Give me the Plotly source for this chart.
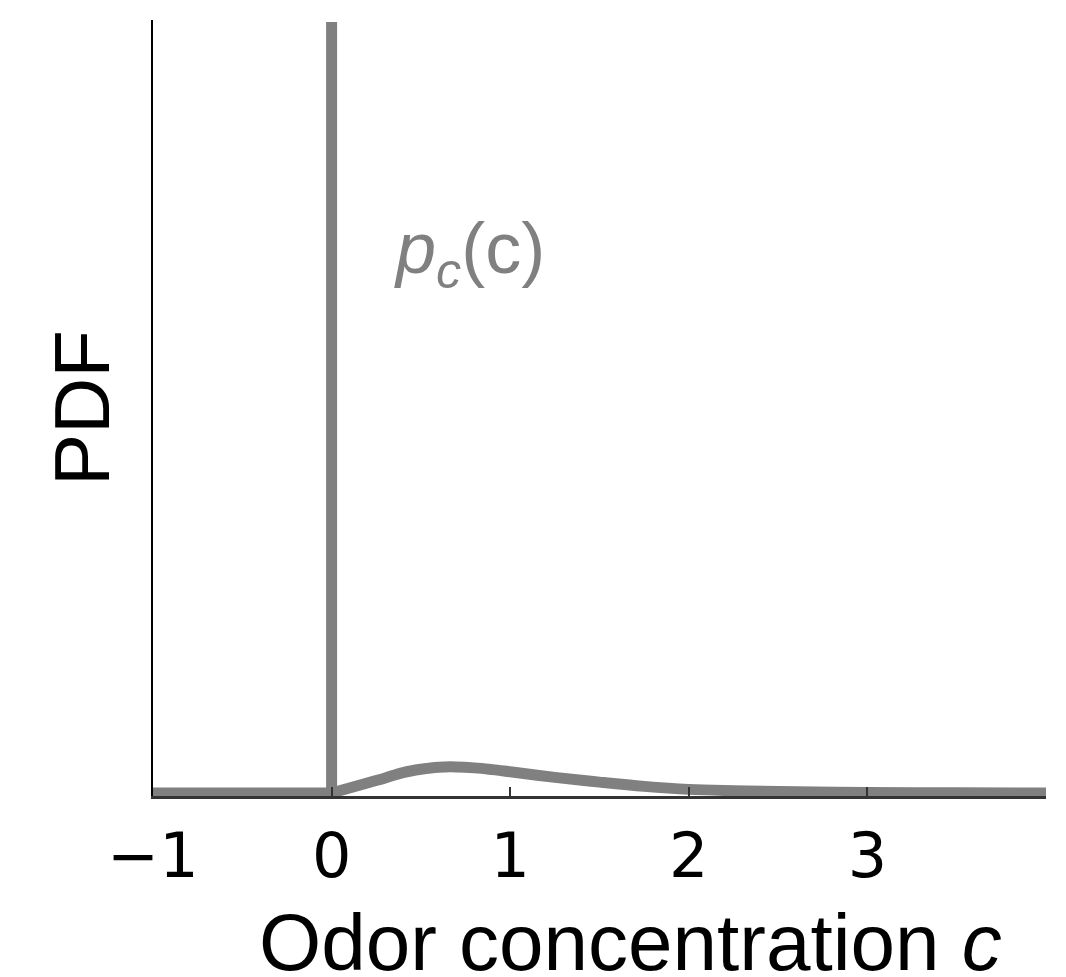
import plotly.graph_objects as go

# Data: odor concentration c and PDF (arbitrary units, delta spike at c=0 has height 1)
c_left = [-1.0, 0.0, 0.0, 0.0]
pdf_left = [0.0, 0.0, 1.0, 0.0]
c_cont = [0.0, 0.1, 0.2, 0.3, 0.4, 0.5, 0.6, 0.7, 0.8, 0.9, 1.0, 1.25, 1.5, 1.75,
          2.0, 2.25, 2.5, 3.0, 3.5, 4.0]
pdf_cont = [0.0, 0.0065, 0.013, 0.0195, 0.0265, 0.0308, 0.0335, 0.0338, 0.0326, 0.0303,
            0.0275, 0.0203, 0.0141, 0.0086, 0.0047, 0.003, 0.0019, 0.00065, 0.00026, 0.0]

tick_vals = [-1, 0, 1, 2, 3]
tick_text = ["\u22121", "0", "1", "2", "3"]

GRAY = "rgb(128,128,128)"

fig = go.Figure()
fig.add_trace(go.Scatter(
    x=c_left, y=pdf_left, mode="lines",
    line=dict(color=GRAY, width=11),
    hoverinfo="skip", showlegend=False,
))
fig.add_trace(go.Scatter(
    x=c_cont, y=pdf_cont, mode="lines",
    line=dict(color=GRAY, width=11, shape="spline", smoothing=1.0),
    hoverinfo="skip", showlegend=False,
))

fig.add_annotation(
    x=0.77, y=0.70, xref="x", yref="y",
    text="<i>p</i><sub><i>c</i></sub>(c)", showarrow=False,
    font=dict(family="Liberation Sans, Arial, sans-serif", size=72, color=GRAY),
    xanchor="center", yanchor="middle",
)

fig.add_annotation(
    x=(631 - 153.5) / 892.5, y=0, xref="paper", yref="paper",
    yshift=-100,
    text="Odor concentration <i>c</i>", showarrow=False,
    font=dict(family="Liberation Sans, Arial, sans-serif", size=80, color="black"),
    xanchor="center", yanchor="top",
)

fig.update_layout(
    width=1066, height=977,
    margin=dict(l=153, r=20, t=20, b=181, pad=0),
    paper_bgcolor="white", plot_bgcolor="white",
    xaxis=dict(
        range=[-1, 4], showgrid=False, zeroline=False,
        showline=True, linecolor="#333333", linewidth=2.5,
        tickmode="array", tickvals=tick_vals, ticktext=tick_text,
        ticks="inside", ticklen=9, tickwidth=2, tickcolor="#333333",
        tickfont=dict(family="DejaVu Sans", size=62, color="black"),
        ticklabelstandoff=4,
    ),
    yaxis=dict(
        range=[-0.0039, 1.0026], showgrid=False, zeroline=False,
        showline=True, linecolor="black", linewidth=2,
        showticklabels=False, ticks="",
        title=dict(text="PDF", standoff=16,
                   font=dict(family="Liberation Sans, Arial, sans-serif", size=78, color="black")),
    ),
)

fig.write_html("out.html")
